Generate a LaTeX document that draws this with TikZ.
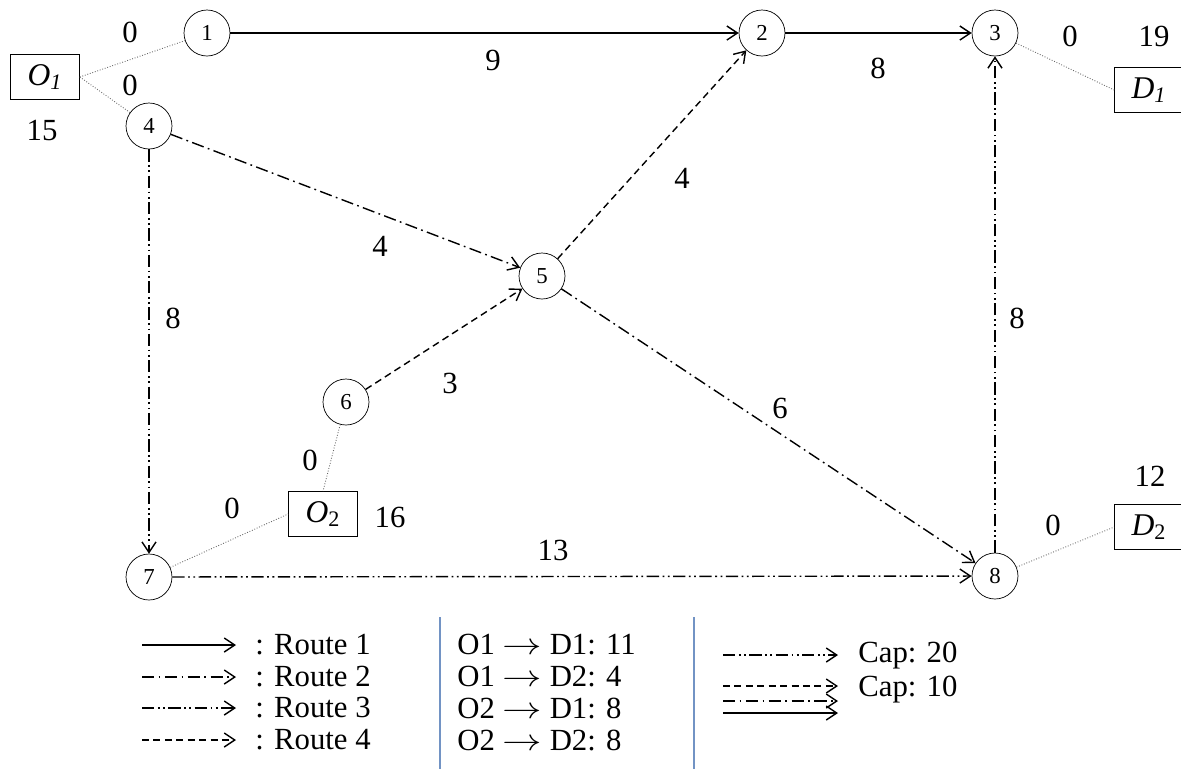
\documentclass[tikz,border=0pt]{standalone}
\usepackage{fontspec}
\setmainfont{Liberation Serif}
\usetikzlibrary{arrows.meta}
\definecolor{legendblue}{RGB}{114,147,196}
\newcommand{\odarrow}{\scalebox{1.3}[1]{$\rightarrow$}}

\begin{document}
\begin{tikzpicture}[x=0.02cm,y=-0.02cm,
  >={Straight Barb[length=6pt,width=8pt]},
  route1/.style={->,line width=0.8pt},
  route2/.style={->,line width=0.8pt,dash pattern=on 7pt off 2.5pt on 1pt off 2.5pt},
  route3/.style={->,line width=0.8pt,dash pattern=on 7pt off 2pt on 1pt off 2pt on 1pt off 2pt},
  route4/.style={->,line width=0.8pt,dash pattern=on 4pt off 2.5pt},
  link/.style={black!60,line width=0.5pt,densely dotted},
  lbl/.style={font=\fontsize{17.5}{20}\selectfont,inner sep=0pt}]
\useasboundingbox (0,0) rectangle (1181,769);
 % origins and destinations
 \begin{scope}[every node/.style={draw,thin,minimum width=1.38cm,minimum height=0.9cm,
                                  inner sep=0pt,font=\fontsize{18}{20}\selectfont}]
  \node (O1) at (45,77) {\textit{O}\textsubscript{\textit{1}}};
  \node (D1) at (1149,90) {\textit{D}\textsubscript{\textit{1}}};
  \node (O2) at (323,514) {\textit{O}\textsubscript{2}};
  \node (D2) at (1149,527) {\textit{D}\textsubscript{2}};
 \end{scope}
 % network nodes
 \begin{scope}[every node/.style={draw,circle,thin,minimum size=0.92cm,inner sep=0pt,
                                  font=\fontsize{13}{15}\selectfont}]
  \node (1) at (207,33) {1};
  \node (2) at (762,33) {2};
  \node (3) at (995,33) {3};
  \node (4) at (149,126) {4};
  \node (5) at (542,276) {5};
  \node (6) at (346,402) {6};
  \node (7) at (149,577) {7};
  \node (8) at (995,576) {8};
 \end{scope}
  \path [link] (O1.east) edge (1);
  \path [link] (O1.east) edge (4);
  \path [link] (3) edge (D1.west);
  \path [link] (6) edge (O2.north);
  \path [link] (7) edge (O2.west);
  \path [link] (8) edge (D2.west);
  \path [route1] (1) edge (2);
  \path [route1] (2) edge (3);
  \path [route2] (4) edge (5);
  \path [route2] (5) edge (8);
  \path [route3] (4) edge (7);
  \path [route3] (7) edge (8);
  \path [route3] (8) edge (3);
  \path [route4] (6) edge (5);
  \path [route4] (5) edge (2);
 % link costs and demands
 \begin{scope}[every node/.style={lbl}]
  \node (c01) at (130,32) {0};
  \node (c04) at (130,85) {0};
  \node (s1) at (42,130) {15};
  \node (c12) at (493,60) {9};
  \node (c23) at (878,68) {8};
  \node (c3d) at (1070,36) {0};
  \node (t1) at (1154,36) {19};
  \node (c45) at (380,246) {4};
  \node (c47) at (173,318) {8};
  \node (c52) at (682,178) {4};
  \node (c65) at (450,383) {3};
  \node (c58) at (780,408) {6};
  \node (c83) at (1017,318) {8};
  \node (c6o) at (310,460) {0};
  \node (c7o) at (232,508) {0};
  \node (s2) at (390,517) {16};
  \node (c78) at (553,550) {13};
  \node (c8d) at (1053,525) {0};
  \node (t2) at (1150,476) {12};
 \end{scope}
 % legend
 \foreach \i/\y in {1/645,2/677,3/708,4/740} {
  \coordinate (ls\i) at (142,\y);
  \coordinate (le\i) at (236,\y);
  \node [lbl,anchor=west] (lr\i) at (255,\y) {: Route \i};
 }
  \path [route1] (ls1) edge (le1);
  \path [route2] (ls2) edge (le2);
  \path [route3] (ls3) edge (le3);
  \path [route4] (ls4) edge (le4);
 \begin{scope}[every node/.style={lbl,anchor=west}]
  \node (od1) at (457,645) {O1 \odarrow{} D1: 11};
  \node (od2) at (457,677) {O1 \odarrow{} D2: 4};
  \node (od3) at (457,708) {O2 \odarrow{} D1: 8};
  \node (od4) at (457,740) {O2 \odarrow{} D2: 8};
  \node (cap20) at (858,656) {Cap: 20};
  \node (cap10) at (858,690) {Cap: 10};
 \end{scope}
  \coordinate (b1t) at (440,617);
  \coordinate (b1b) at (440,769);
  \coordinate (b2t) at (694,617);
  \coordinate (b2b) at (694,769);
  \path [legendblue,line width=1pt] (b1t) edge (b1b);
  \path [legendblue,line width=1pt] (b2t) edge (b2b);
  \coordinate (k1s) at (723,655);
  \coordinate (k1e) at (838,655);
  \coordinate (k2s) at (723,686);
  \coordinate (k2e) at (838,686);
  \coordinate (k3s) at (723,701);
  \coordinate (k3e) at (838,701);
  \coordinate (k4s) at (723,713);
  \coordinate (k4e) at (838,713);
  \path [route3] (k1s) edge (k1e);
  \path [route4] (k2s) edge (k2e);
  \path [route2] (k3s) edge (k3e);
  \path [route1] (k4s) edge (k4e);
\end{tikzpicture}
\end{document}
